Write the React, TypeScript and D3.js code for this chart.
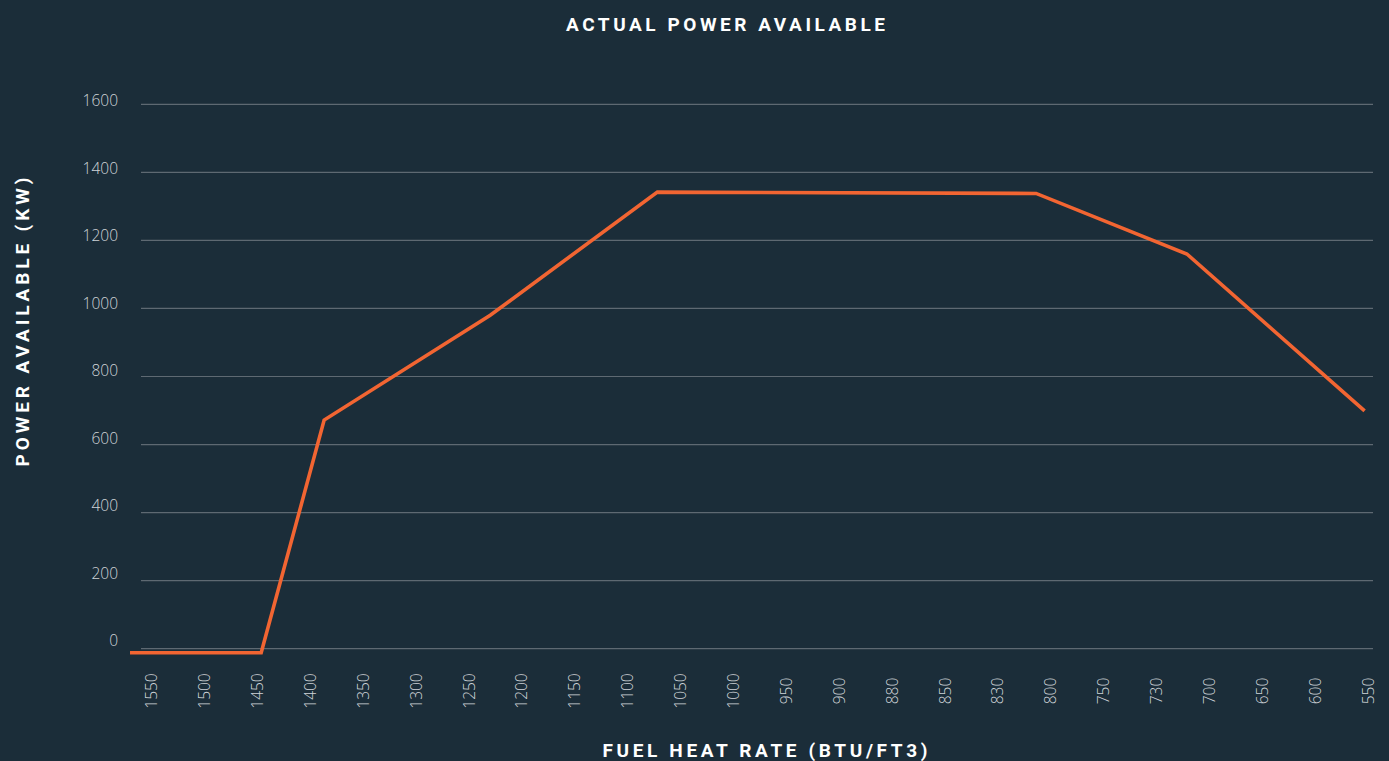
import React from "react";
import * as d3 from "d3";

const categories = ["1550","1500","1450","1400","1350","1300","1250","1200","1150","1100","1050","1000","950","900","880","850","830","800","750","730","700","650","600","550"];
const yTicks = [0, 200, 400, 600, 800, 1000, 1200, 1400, 1600];
// line vertices: position on the category axis (index, fractional) and power (kW)
const linePos = [-0.41, 2.07, 3.26, 6.40, 9.56, 16.72, 19.57, 22.93];
const lineKW = [-12, -12, 672, 980, 1342, 1338, 1160, 699];

const W = 1389, H = 761;
const BG = "#1b2d39";
const ORANGE = "#f26532";
const GRID = "#5e6972";
const TXT = "#cfd4d8";

export default function App() {
  const x = d3.scaleLinear().domain([0, categories.length - 1]).range([151.7, 1368.3]);
  const y = d3.scaleLinear().domain([0, 1600]).range([648.7, 104.3]);
  const yLab = d3.scaleLinear().domain([0, 1600]).range([641, 101]);
  const pts = linePos.map((p, i) => [p, lineKW[i]] as [number, number]);
  const path = d3.line<[number, number]>().x(d => x(d[0])).y(d => y(d[1]))(pts) || "";
  const labFont = "'Open Sans', Lato, sans-serif";
  const headFont = "Roboto, 'Open Sans', sans-serif";
  const head = { fill: "#ffffff", fontFamily: headFont, fontWeight: 700, fontSize: 19 };
  return (
    <div style={{ position: "absolute", left: 0, top: 0, width: W, height: H, background: BG }}>
      <svg width={W} height={H} style={{ display: "block" }}>
        <rect x={0} y={0} width={W} height={H} fill={BG} />
        <text x={725.5} y={31} textAnchor="middle" {...head} textLength={319} lengthAdjust="spacing">ACTUAL POWER AVAILABLE</text>
        {yTicks.map(t => (
          <g key={t}>
            <line x1={141} x2={1373} y1={y(t)} y2={y(t)} stroke={GRID} strokeWidth={1.2} />
            <text x={118} y={yLab(t)} dy="0.35em" textAnchor="end" fill={TXT} fontFamily={labFont} fontWeight={300} fontSize={15.5}>{t}</text>
          </g>
        ))}
        {categories.map((c, i) => (
          <text key={c} transform={`translate(${x(i)},691) rotate(-90)`} textAnchor="middle" dy="0.35em" fill={TXT} fontFamily={labFont} fontWeight={300} fontSize={15.5}>{c}</text>
        ))}
        <path d={path} fill="none" stroke={ORANGE} strokeWidth={3.6} strokeLinejoin="miter" />
        <text x={765} y={757} textAnchor="middle" {...head} textLength={325} lengthAdjust="spacing">FUEL HEAT RATE (BTU/FT3)</text>
        <text transform="translate(29,322) rotate(-90)" textAnchor="middle" {...head} textLength={289} lengthAdjust="spacing">POWER AVAILABLE (KW)</text>
      </svg>
    </div>
  );
}
